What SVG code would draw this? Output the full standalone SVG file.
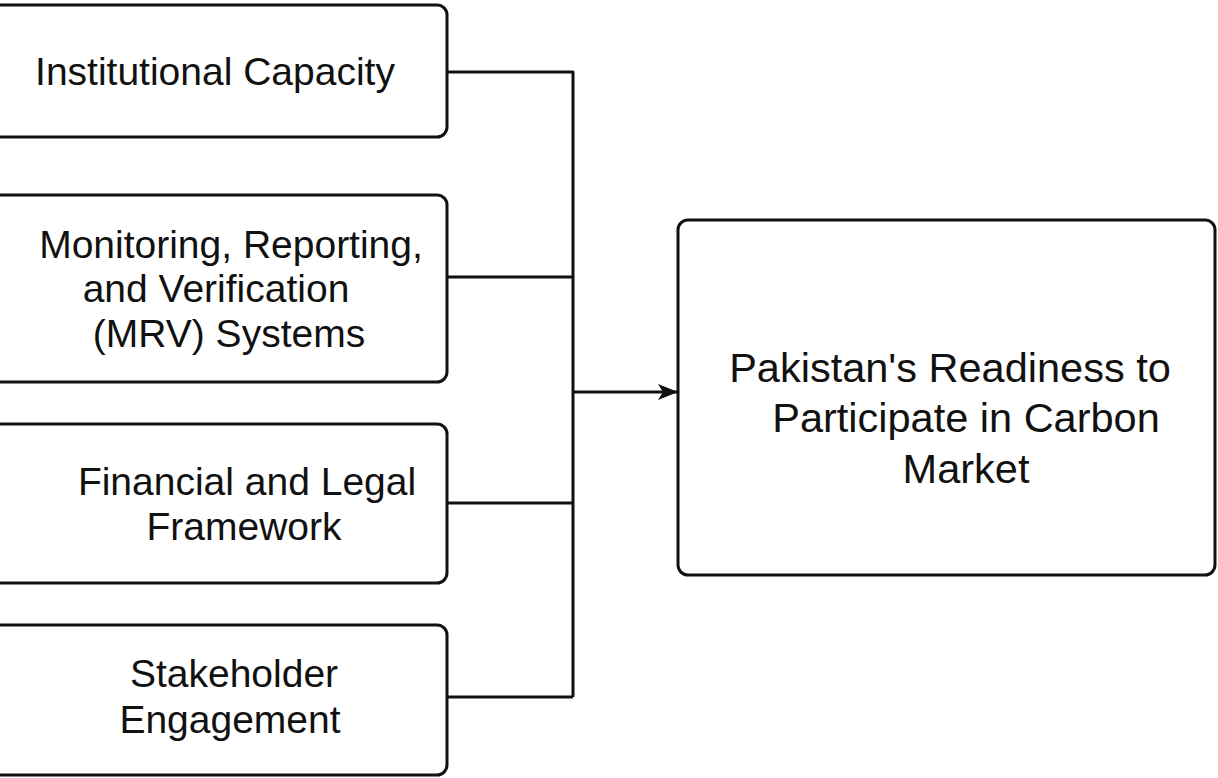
<svg xmlns="http://www.w3.org/2000/svg" width="1218" height="778" viewBox="0 0 1218 778">
  <style>
    .box { fill: #ffffff; stroke: #111111; stroke-width: 3; }
    .lbl { font-family: "Liberation Sans", Arial, sans-serif; font-size: 39px; fill: #111111; text-anchor: middle; }
    .big { font-size: 41.5px; }
    .wire { fill: none; stroke: #111111; stroke-width: 3; stroke-linejoin: round; }
  </style>
  <defs>
    <marker id="arrowhead" markerUnits="userSpaceOnUse" markerWidth="22" markerHeight="18" refX="19" refY="9" orient="auto">
      <path d="M0,1 L20,9 L0,17 L5,9 Z" fill="#111111"/>
    </marker>
  </defs>
  <rect width="1218" height="778" fill="#ffffff"/>

  <!-- connectors: four inputs merge into one bus feeding the outcome box -->
  <g id="connectors">
    <path class="wire" d="M447,72 H573 V697"/>
    <path class="wire" d="M447,277 H573"/>
    <path class="wire" d="M447,503 H573"/>
    <path class="wire" d="M447,697 H573"/>
    <path class="wire" d="M573,392 H677" marker-end="url(#arrowhead)"/>
  </g>

  <g id="institutional-capacity">
    <rect class="box" x="-20" y="5" width="467" height="132" rx="10"/>
    <text class="lbl" x="215" y="85">Institutional Capacity</text>
  </g>

  <g id="mrv-systems">
    <rect class="box" x="-20" y="195" width="467" height="187" rx="10"/>
    <text class="lbl" x="231" y="258">Monitoring, Reporting,</text>
    <text class="lbl" x="216" y="302">and Verification</text>
    <text class="lbl" x="229" y="347">(MRV) Systems</text>
  </g>

  <g id="financial-legal">
    <rect class="box" x="-20" y="424" width="467" height="159" rx="10"/>
    <text class="lbl" x="247" y="495">Financial and Legal</text>
    <text class="lbl" x="244" y="540">Framework</text>
  </g>

  <g id="stakeholder-engagement">
    <rect class="box" x="-20" y="625" width="467" height="150" rx="10"/>
    <text class="lbl" x="234" y="687">Stakeholder</text>
    <text class="lbl" x="230" y="733">Engagement</text>
  </g>

  <g id="carbon-market-readiness">
    <rect class="box" x="678" y="220" width="537" height="355" rx="10"/>
    <text class="lbl big" x="950" y="382">Pakistan's Readiness to</text>
    <text class="lbl big" x="966" y="432">Participate in Carbon</text>
    <text class="lbl big" x="966" y="483">Market</text>
  </g>
</svg>
